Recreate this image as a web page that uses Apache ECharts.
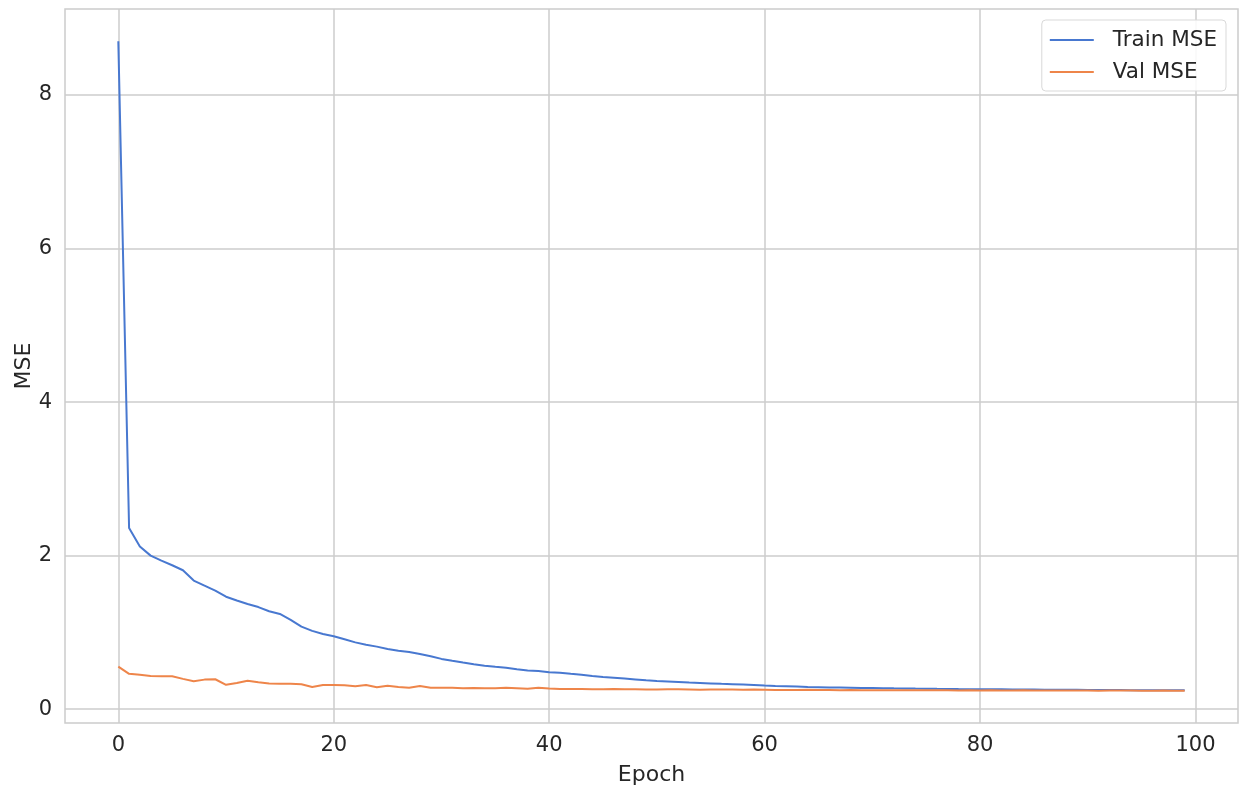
<!DOCTYPE html>
<html>
<head>
<meta charset="utf-8">
<script src="https://cdn.jsdelivr.net/npm/echarts@6/dist/echarts.min.js"></script>
<style>
html,body{margin:0;padding:0;background:#fff;}
#chart{width:1239px;height:786px;}
</style>
</head>
<body>
<div id="chart"></div>
<script>
const epochs = Array.from({length: 100}, (_, i) => i);
const trainMSE = [
  8.70, 2.36, 2.12, 2.00, 1.935, 1.875, 1.81, 1.675, 1.61, 1.545,
  1.465, 1.415, 1.37, 1.33, 1.275, 1.24, 1.163, 1.075, 1.02, 0.98,
  0.95, 0.91, 0.87, 0.84, 0.815, 0.785, 0.76, 0.745, 0.72, 0.69,
  0.655, 0.63, 0.607, 0.585, 0.567, 0.552, 0.54, 0.52, 0.505, 0.497,
  0.482, 0.475, 0.46, 0.447, 0.432, 0.42, 0.41, 0.40, 0.388, 0.376,
  0.368, 0.362, 0.355, 0.348, 0.342, 0.336, 0.33, 0.325, 0.32, 0.315,
  0.307, 0.301, 0.298, 0.294, 0.29, 0.287, 0.284, 0.282, 0.28, 0.277,
  0.275, 0.273, 0.271, 0.27, 0.268, 0.267, 0.265, 0.264, 0.262, 0.261,
  0.26, 0.259, 0.258, 0.257, 0.256, 0.255, 0.254, 0.253, 0.252, 0.252,
  0.251, 0.25, 0.25, 0.249, 0.248, 0.248, 0.247, 0.247, 0.246, 0.246
];
const valMSE = [
  0.555, 0.46, 0.447, 0.433, 0.43, 0.43, 0.395, 0.365, 0.385, 0.39,
  0.317, 0.34, 0.37, 0.35, 0.335, 0.33, 0.33, 0.325, 0.29, 0.315,
  0.315, 0.313, 0.30, 0.315, 0.285, 0.305, 0.29, 0.28, 0.303, 0.278,
  0.28, 0.278, 0.272, 0.277, 0.273, 0.272, 0.278, 0.272, 0.266, 0.28,
  0.27, 0.262, 0.264, 0.263, 0.258, 0.26, 0.262, 0.258, 0.259, 0.255,
  0.256, 0.258, 0.26, 0.257, 0.254, 0.256, 0.255, 0.256, 0.254, 0.255,
  0.253, 0.25, 0.251, 0.25, 0.252, 0.249, 0.249, 0.248, 0.25, 0.247,
  0.246, 0.248, 0.247, 0.246, 0.247, 0.245, 0.246, 0.245, 0.244, 0.246,
  0.244, 0.245, 0.244, 0.243, 0.245, 0.244, 0.243, 0.242, 0.243, 0.244,
  0.243, 0.241, 0.242, 0.243, 0.242, 0.241, 0.24, 0.242, 0.241, 0.241
];
const xTicks = [0, 20, 40, 60, 80, 100];
const yTicks = [0, 2, 4, 6, 8];
const seriesNames = ['Train MSE', 'Val MSE'];
const colors = ['#4878d0', '#ee854a'];
const FONT = 'DejaVu Sans';
const TXT = '#262626';
const GRIDC = '#cccccc';

const chart = echarts.init(document.getElementById('chart'), null, {renderer: 'canvas'});
chart.setOption({
  animation: false,
  backgroundColor: '#ffffff',
  textStyle: {fontFamily: FONT, color: TXT},
  grid: {left: 65, right: 1, top: 9, bottom: 63, containLabel: false, outerBoundsMode: 'none',
         show: true, borderColor: GRIDC, borderWidth: 1.5, backgroundColor: 'transparent'},
  legend: {
    data: seriesNames,
    orient: 'vertical',
    right: 13,
    top: 20,
    padding: [9, 9, 8, 8],
    icon: 'rect',
    itemWidth: 44,
    itemHeight: 2,
    itemGap: 10,
    backgroundColor: 'rgba(255,255,255,0.85)',
    borderColor: '#d9d9d9',
    borderWidth: 1,
    borderRadius: 4,
    textStyle: {fontFamily: FONT, fontSize: 21.5, color: TXT, lineHeight: 22, padding: [0, 0, 0, 14]}
  },
  xAxis: {
    type: 'value',
    min: -4.95,
    max: 103.95,
    name: 'Epoch',
    nameLocation: 'middle',
    nameGap: 41,
    nameTextStyle: {fontFamily: FONT, fontSize: 22, color: TXT},
    axisLine: {show: false},
    axisTick: {show: false, customValues: xTicks},
    axisLabel: {fontFamily: FONT, fontSize: 21, color: TXT, margin: 12, customValues: xTicks},
    splitLine: {show: true, lineStyle: {color: GRIDC, width: 1.5}}
  },
  yAxis: {
    type: 'value',
    min: -0.18,
    max: 9.12,
    name: 'MSE',
    nameLocation: 'middle',
    nameGap: 30,
    nameMoveOverlap: false,
    nameTextStyle: {fontFamily: FONT, fontSize: 22, color: TXT},
    axisLine: {show: false},
    axisTick: {show: false, customValues: yTicks},
    axisLabel: {fontFamily: FONT, fontSize: 21, color: TXT, margin: 13, customValues: yTicks},
    splitLine: {show: true, lineStyle: {color: GRIDC, width: 1.5}}
  },
  series: [
    {
      name: seriesNames[0], type: 'line', symbol: 'none',
      data: epochs.map((e, i) => [e, trainMSE[i]]),
      lineStyle: {color: colors[0], width: 2}, itemStyle: {color: colors[0]}
    },
    {
      name: seriesNames[1], type: 'line', symbol: 'none',
      data: epochs.map((e, i) => [e, valMSE[i]]),
      lineStyle: {color: colors[1], width: 2}, itemStyle: {color: colors[1]}
    }
  ]
});
</script>
</body>
</html>
